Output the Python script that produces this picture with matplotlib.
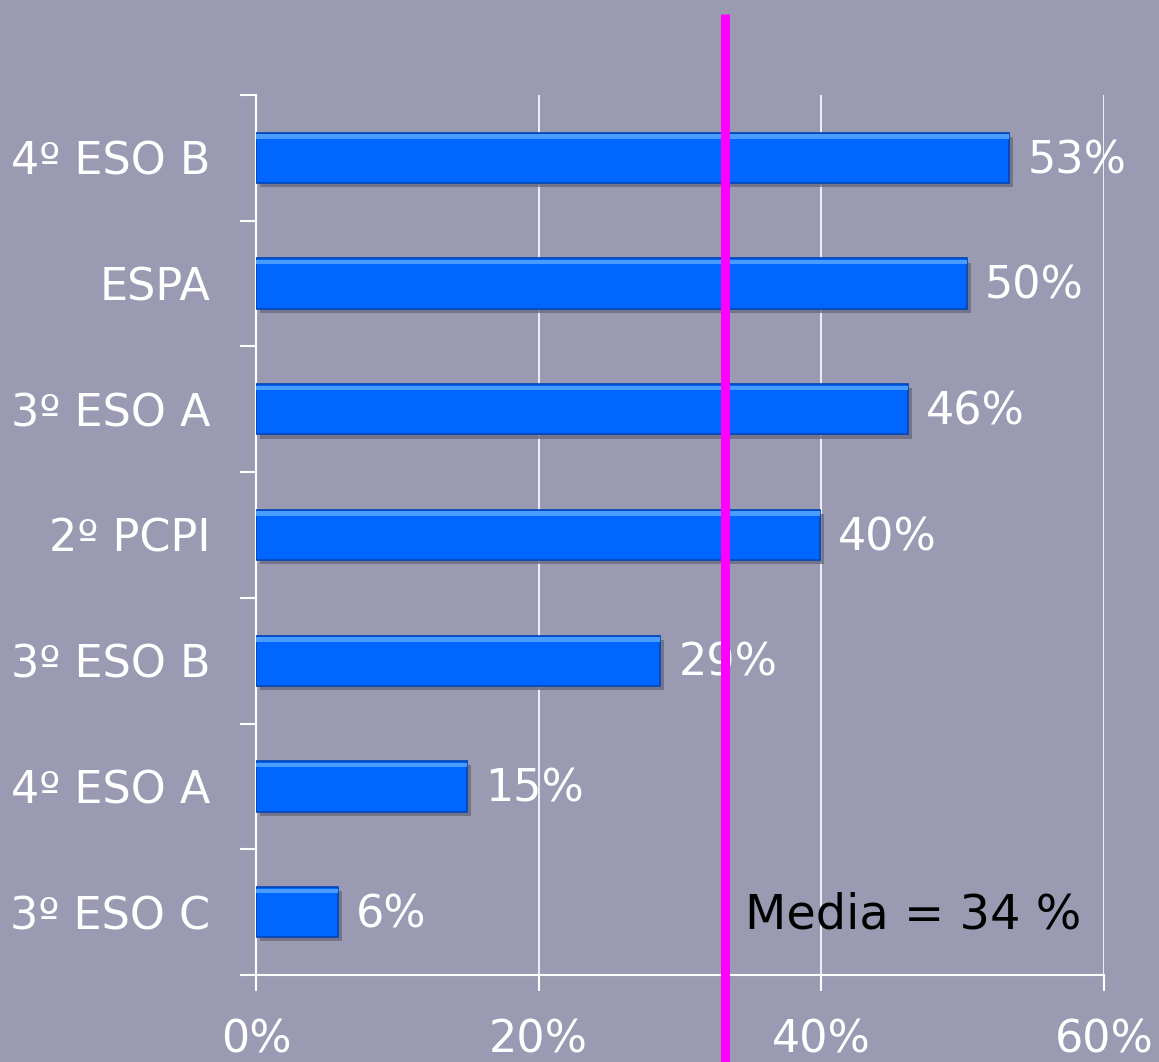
import matplotlib
matplotlib.use("Agg")
import matplotlib.pyplot as plt
import matplotlib.patheffects as pe
from matplotlib.ticker import FixedLocator

categories = ["3º ESO C", "4º ESO A", "3º ESO B", "2º PCPI", "3º ESO A", "ESPA", "4º ESO B"]
values = [5.8, 14.9, 28.6, 39.9, 46.1, 50.3, 53.3]
value_labels = ["6%", "15%", "29%", "40%", "46%", "50%", "53%"]
mean_value = 33.2
mean_label = "Media = 34 %"
xticks = [0, 20, 40, 60]
xtick_labels = ["0%", "20%", "40%", "60%"]

BG = "#9A9AB2"
W, H = 1159, 1062
fig = plt.figure(figsize=(W / 100, H / 100), dpi=100, facecolor=BG)
ax = fig.add_axes([256 / W, 1 - 975 / H, (1104 - 256) / W, (975 - 95) / H])
ax.set_facecolor(BG)

plt.rcParams['font.family'] = ['DejaVu Sans']
fs = 32

y = list(range(len(categories)))
bars = ax.barh(y, values, height=0.40, color="#0066FF", edgecolor="#0045B8", linewidth=1.2, zorder=3)
for b in bars:
    b.set_path_effects([pe.SimplePatchShadow(offset=(3, -3), shadow_rgbFace="#6A6A80", alpha=0.8), pe.Normal()])
# highlight strip near top of bars
ax.barh([v + 0.17 for v in y], values, height=0.035, color="#4A9CFF", linewidth=0, zorder=4)

for yi, v, lab in zip(y, values, value_labels):
    ax.annotate(lab, (v, yi), xytext=(13, -2), textcoords="offset points",
                ha="left", va="center", fontsize=fs, color="white", zorder=5)

ax.set_xlim(0, 60)
ax.set_ylim(-0.5, len(categories) - 0.5)

ax.set_xticks(xticks)
ax.set_xticklabels(xtick_labels)
ax.set_yticks(y)
ax.set_yticklabels(categories)
ax.yaxis.set_minor_locator(FixedLocator([i - 0.5 for i in range(len(categories) + 1)]))

ax.tick_params(axis="y", which="major", length=0, pad=33, labelsize=fs, labelcolor="white")
ax.tick_params(axis="y", which="minor", length=11.5, width=1.5, color="white", direction="out")
ax.tick_params(axis="x", which="major", length=11.5, width=1.5, color="white", direction="out",
               pad=20, labelsize=fs, labelcolor="white")

for s in ["top", "right"]:
    ax.spines[s].set_visible(False)
for s in ["left", "bottom"]:
    ax.spines[s].set_color("white")
    ax.spines[s].set_linewidth(1.5)

ax.grid(axis="x", color="white", linewidth=1.2, zorder=1)
ax.set_axisbelow(True)

ax.axvline(mean_value, ymin=-0.1, ymax=(975 - 14) / 880, color="#FF00FF", linewidth=6.5,
           solid_capstyle="butt", clip_on=False, zorder=6)

ax.text(34.6, -0.02, mean_label, ha="left", va="center", fontsize=34.5, color="black", zorder=7)

fig.savefig("out.png", dpi=100, facecolor=BG)
